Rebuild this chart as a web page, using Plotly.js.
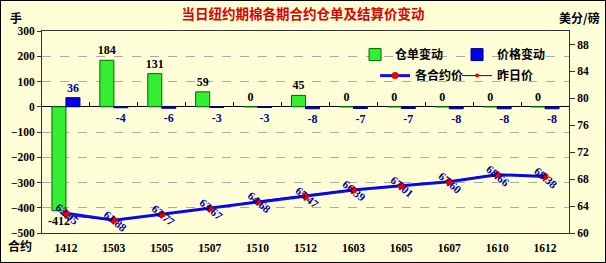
<!DOCTYPE html>
<html><head><meta charset="utf-8">
<script src="https://cdn.plot.ly/plotly-3.0.1.min.js"></script>
<style>html,body{margin:0;padding:0;background:#fff;} #c{width:604px;height:261px;border:1px solid #000;}</style>
</head><body><div id="c"></div>
<script>
const contracts = ['1412','1503','1505','1507','1510','1512','1603','1605','1607','1610','1612'];
const warrantChange = [-412,184,131,59,0,45,0,0,0,0,0];
const priceChange = [36,-4,-6,-3,-3,-8,-7,-7,-8,-8,-8];
const settlePrice = [62.95,61.88,62.77,63.67,64.68,65.47,66.39,67.01,67.60,68.66,68.38];
const prevPrice = [62.59,61.92,62.83,63.70,64.71,65.55,66.46,67.08,67.68,68.74,68.46];
const leftTicks = [-500,-400,-300,-200,-100,0,100,200,300];
const rightTicks = [60,64,68,72,76,80,84,88];

const BG = '#FFFFD7';
const numFont = 'Liberation Serif, Noto Sans CJK SC, serif';
const cjkFont = 'Noto Sans CJK SC, sans-serif';

const traces = [
  {type:'bar', name:'仓单变动', x:contracts, y:warrantChange, yaxis:'y', legend:'legend',
   marker:{color:'#33EE33', line:{color:'#006600', width:1}},
   text:warrantChange.map(String), textposition:'outside', cliponaxis:false, constraintext:'none',
   textfont:{family:numFont, size:12, color:'#000', weight:'bold'}},
  {type:'bar', name:'价格变动', x:contracts, y:priceChange, yaxis:'y', legend:'legend',
   marker:{color:'#0000EE', line:{color:'#000080', width:1}},
   text:priceChange.map(String), textposition:'outside', cliponaxis:false, constraintext:'none',
   textfont:{family:numFont, size:12, color:'#000099', weight:'bold'}},
  {type:'scatter', mode:'lines+markers', name:'昨日价', x:contracts, y:prevPrice, xaxis:'x2', yaxis:'y2', legend:'legend2',
   line:{color:'#0000EE', width:1}, marker:{color:'#EE0000', size:4}},
  {type:'scatter', mode:'lines+markers', name:'各合约价', x:contracts, y:settlePrice, yaxis:'y2', legend:'legend2',
   line:{color:'#0F0FE6', width:3}, marker:{color:'#EE0000', size:7}}
];

const annotations = settlePrice.map((v,i)=>({
  xref:'x', yref:'y2', x:i, y:v, text:v.toFixed(2), showarrow:false,
  xanchor:'center', yanchor:'middle',
  textangle:40, xshift:1, yshift:-1,
  font:{family:numFont, size:11.5, color:'#000099', weight:'bold'}
}));
annotations.push(
  {xref:'paper', yref:'paper', x:-0.0493, y:1.069, xanchor:'center', yanchor:'middle', text:'手', showarrow:false, font:{family:cjkFont, size:12, color:'#000', weight:'bold'}},
  {xref:'paper', yref:'paper', x:1.019, y:1.069, xanchor:'center', yanchor:'middle', text:'美分/磅', showarrow:false, font:{family:cjkFont, size:12, color:'#000', weight:'bold'}},
  {xref:'paper', yref:'paper', x:-0.0417, y:-0.064, xanchor:'center', yanchor:'middle', text:'合约', showarrow:false, font:{family:cjkFont, size:12, color:'#000', weight:'bold'}}
);

const layout = {
  width:604, height:261,
  margin:{l:41, r:36, t:30, b:29},
  paper_bgcolor:BG, plot_bgcolor:BG,
  title:{text:'当日纽约期棉各期合约仓单及结算价变动', x:0.5, xanchor:'center', y:0.95, yanchor:'middle',
         font:{family:cjkFont, size:13.5, color:'#DD0000', weight:'bold'}},
  barmode:'group', bargap:0.415, bargroupgap:0,
  showlegend:true,
  legend:{orientation:'h', x:0.594, y:0.955, xanchor:'left', yanchor:'top', bgcolor:'rgba(0,0,0,0)',
          entrywidth:57, entrywidthmode:'pixels', traceorder:'normal',
          font:{family:cjkFont, size:12, color:'#000', weight:'bold'}},
  legend2:{orientation:'h', x:0.632, y:0.851, xanchor:'left', yanchor:'top', bgcolor:'rgba(0,0,0,0)',
          entrywidth:37, entrywidthmode:'pixels', traceorder:'reversed',
          font:{family:cjkFont, size:12, color:'#000', weight:'bold'}},
  xaxis:{type:'category', categoryarray:contracts, range:[-0.5,10.5], showline:true, mirror:true, linecolor:'#333', linewidth:1,
         ticks:'', showgrid:false, zeroline:false, ticklabelstandoff:4,
         tickfont:{family:numFont, size:11.5, color:'#000', weight:'bold'}},
  xaxis2:{type:'category', categoryarray:contracts, range:[-0.5,10.5], overlaying:'x', anchor:'free', position:0.625,
          side:'bottom', ticks:'inside', ticklen:5, tickcolor:'#000', tickson:'boundaries', showticklabels:false,
          showline:false, showgrid:false, zeroline:false},
  yaxis:{range:[-500,300], tickvals:leftTicks, ticks:'outside', ticklen:4, tickcolor:'#333',
         showline:true, linecolor:'#333', linewidth:1,
         showgrid:true, gridcolor:'#AAAAAA', griddash:'dash', gridwidth:1,
         zeroline:true, zerolinecolor:'#000', zerolinewidth:1,
         tickfont:{family:numFont, size:11.5, color:'#000', weight:'bold'}},
  yaxis2:{range:[60,90], tickvals:rightTicks, overlaying:'y', side:'right', anchor:'x',
          ticks:'outside', ticklen:5, tickcolor:'#333', showline:true, linecolor:'#333', linewidth:1,
          showgrid:false, zeroline:false,
          tickfont:{family:numFont, size:11.5, color:'#000', weight:'bold'}},
  annotations:annotations
};

Plotly.newPlot('c', traces, layout, {displayModeBar:false, staticPlot:true});
</script>
</body></html>
